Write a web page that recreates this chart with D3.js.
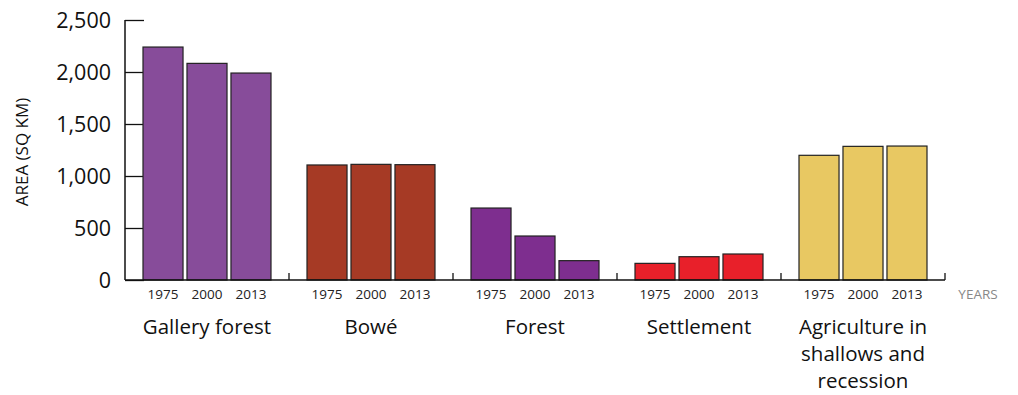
<!DOCTYPE html>
<html>
<head>
<meta charset="utf-8">
<script src="https://cdn.jsdelivr.net/npm/d3@7"></script>
<style>
  body { margin: 0; background: #fff; }
  svg text { font-family: "Open Sans", "Noto Sans", sans-serif; }
</style>
</head>
<body>
<svg id="chart" width="1018" height="395"></svg>
<script>
// data
const categories = ["Gallery forest", "Bowé", "Forest", "Settlement", "Agriculture in shallows and recession"];
const categoryLines = [["Gallery forest"], ["Bowé"], ["Forest"], ["Settlement"], ["Agriculture in", "shallows and", "recession"]];
const years = ["1975", "2000", "2013"];
const values = [
    [2240, 2083, 1990],
    [1106, 1112, 1109],
    [692, 423, 186],
    [160, 224, 250],
    [1199, 1285, 1288]
];
const colors = ["#874c9a", "#a63a25", "#7e2e8f", "#e8202a", "#e8c862"];
const yTicks = [0, 500, 1000, 1500, 2000, 2500];

const svg = d3.select("#chart");
const plotLeft = 125, plotRight = 945, plotTop = 20, plotBottom = 280;

const x0 = d3.scaleBand().domain(categories).range([plotLeft, plotRight]).padding(0);
const x1 = d3.scaleBand().domain(years).range([18, x0.bandwidth() - 18]).paddingInner(0.09);
const y = d3.scaleLinear().domain([0, 2500]).range([plotBottom, plotTop]);

// y axis, ticks pointing inward (drawn first so bars cover them)
const yAxis = svg.append("g")
    .attr("transform", `translate(${plotLeft},0)`)
    .call(d3.axisRight(y).tickValues(yTicks).tickSize(19).tickFormat(""));
yAxis.select(".domain").remove();
yAxis.selectAll("line").attr("stroke", "#111").attr("stroke-width", 1.3);

// bars
categories.forEach((c, i) => {
    const g = svg.append("g").attr("transform", `translate(${x0(c)},0)`);
    g.selectAll("rect")
        .data(values[i])
        .join("rect")
        .attr("x", (d, j) => x1(years[j]))
        .attr("y", d => y(d))
        .attr("width", x1.bandwidth())
        .attr("height", d => y(0) - y(d))
        .attr("fill", colors[i])
        .attr("stroke", "#222")
        .attr("stroke-width", 1.2);

    g.selectAll("text.year")
        .data(years)
        .join("text")
        .attr("class", "year")
        .attr("x", d => x1(d) + x1.bandwidth() / 2)
        .attr("y", 299)
        .attr("text-anchor", "middle")
        .attr("font-size", 13.5)
        .attr("fill", "#222")
        .text(d => d);

    const label = g.append("text")
        .attr("text-anchor", "middle")
        .attr("font-size", 20.5)
        .attr("fill", "#111");
    categoryLines[i].forEach((line, k) => {
        label.append("tspan")
            .attr("x", x0.bandwidth() / 2)
            .attr("y", 334 + k * 27)
            .text(line);
    });
});

svg.append("line")
    .attr("x1", plotLeft).attr("x2", plotLeft)
    .attr("y1", y(2500)).attr("y2", y(0))
    .attr("stroke", "#111").attr("stroke-width", 1.5);

svg.selectAll("text.ytick")
    .data(yTicks)
    .join("text")
    .attr("class", "ytick")
    .attr("x", 111)
    .attr("y", d => y(d) + 7.5)
    .attr("text-anchor", "end")
    .attr("font-size", 21.5)
    .attr("fill", "#111")
    .text(d => d3.format(",")(d));

// x axis with group separators
svg.append("line")
    .attr("x1", plotLeft).attr("x2", plotRight)
    .attr("y1", y(0)).attr("y2", y(0))
    .attr("stroke", "#111").attr("stroke-width", 1.5);

svg.selectAll("line.sep")
    .data(categories)
    .join("line")
    .attr("class", "sep")
    .attr("x1", d => x0(d) + x0.bandwidth())
    .attr("x2", d => x0(d) + x0.bandwidth())
    .attr("y1", y(0))
    .attr("y2", y(0) - 7)
    .attr("stroke", "#111").attr("stroke-width", 1.3);

svg.append("text")
    .attr("x", 978).attr("y", 299)
    .attr("text-anchor", "middle")
    .attr("font-size", 13.5)
    .attr("fill", "#888")
    .text("YEARS");

svg.append("text")
    .attr("transform", "translate(28,152) rotate(-90)")
    .attr("text-anchor", "middle")
    .attr("font-size", 17)
    .attr("fill", "#111")
    .text("AREA (SQ KM)");
</script>
</body>
</html>
